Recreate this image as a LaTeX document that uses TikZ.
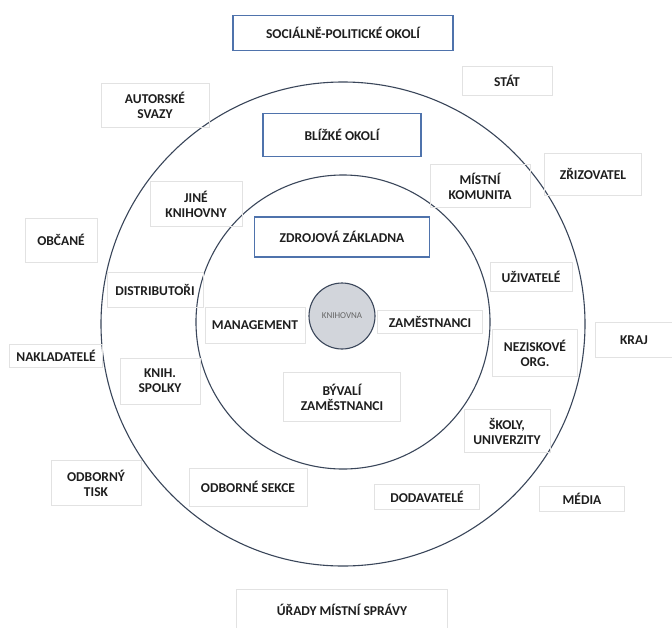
\documentclass[tikz,border=0pt]{standalone}
\usepackage{fontspec}
\setmainfont{Carlito}
\usepackage{tikz}

\definecolor{ramecek}{RGB}{79,115,172}
\definecolor{sedyokraj}{RGB}{226,226,226}
\definecolor{kruh}{RGB}{58,70,90}
\definecolor{jadro}{RGB}{210,213,219}
\definecolor{pismo}{RGB}{30,30,30}

\tikzset{
  stitek/.style={draw=sedyokraj, line width=0.6pt, align=center,
    inner sep=1pt, text=pismo, font=\bfseries\fontsize{13.5}{15}\selectfont},
  titul/.style={stitek, draw=ramecek, line width=1.4pt},
  okruh/.style={draw=kruh, line width=1.1pt}
}

\newcommand{\stitek}[6]{ % #1 jmeno, #2 x, #3 y, #4 sirka, #5 vyska, #6 text
  \node[stitek, minimum width=#4, minimum height=#5] (#1) at (#2,#3) {#6};
}
\newcommand{\titul}[6]{ % stejne jako \stitek, ale modry ramecek
  \node[titul, minimum width=#4, minimum height=#5] (#1) at (#2,#3) {#6};
}

\begin{document}
\begin{tikzpicture}[x=1pt, y=-1pt]
    \useasboundingbox[fill=white] (0,0) rectangle (672,627);

    % soustredne kruhy
    \draw[okruh] (343,324) circle (242);
    \draw[okruh] (343,322) circle (147);

    % vnejsi okoli
    \titul{socpol}{343}{33}{220}{35}{SOCIÁLNĚ-POLITICKÉ OKOLÍ}
    \stitek{autori}{155}{105}{108}{44}{AUTORSKÉ\\SVAZY}
    \stitek{stat}{507}{81}{90}{29}{STÁT}
    \stitek{zrizovatel}{593}{174}{97}{42}{ZŘIZOVATEL}
    \stitek{obcane}{61}{240}{72}{44}{OBČANÉ}
    \stitek{kraj}{634}{340}{78}{35}{KRAJ}
    \stitek{nakladatele}{56}{356}{93}{23}{NAKLADATELÉ}
    \stitek{tisk}{96}{483}{90}{45}{ODBORNÝ\\TISK}
    \stitek{media}{582}{499}{85}{25}{MÉDIA}
    \stitek{urady}{342}{610}{211}{42}{ÚŘADY MÍSTNÍ SPRÁVY}

    % blizke okoli
    \titul{blizke}{342}{135}{158}{43}{BLÍŽKÉ OKOLÍ}
    \stitek{jine}{196}{204}{92}{45}{JINÉ\\KNIHOVNY}
    \stitek{komunita}{480}{186}{100}{43}{MÍSTNÍ\\KOMUNITA}
    \stitek{distrib}{155}{290}{96}{35}{DISTRIBUTOŘI}
    \stitek{uzivatele}{531}{277}{82}{29}{UŽIVATELÉ}
    \stitek{neziskove}{535}{353}{85}{47}{NEZISKOVÉ\\ORG.}
    \stitek{spolky}{160}{381}{80}{46}{KNIH.\\SPOLKY}
    \stitek{skoly}{507}{431}{86}{43}{ŠKOLY,\\UNIVERZITY}
    \stitek{sekce}{248}{487}{118}{38}{ODBORNÉ SEKCE}
    \stitek{dodavatele}{427}{497}{105}{25}{DODAVATELÉ}

    % zdrojova zakladna
    \titul{zdroje}{342}{237}{175}{40}{ZDROJOVÁ ZÁKLADNA}
    \stitek{management}{255}{325}{100}{36}{MANAGEMENT}
    \stitek{zamestnanci}{430}{322}{105}{23}{ZAMĚSTNANCI}
    \stitek{byvali}{342}{397}{117}{49}{BÝVALÍ\\ZAMĚSTNANCI}

    % jadro
    \node[draw=kruh, line width=1.1pt, fill=jadro, circle, minimum size=66,
      inner sep=0pt, text=black!60, font=\fontsize{9}{10}\selectfont]
      (knihovna) at (342,316) {KNIHOVNA};
\end{tikzpicture}
\end{document}
